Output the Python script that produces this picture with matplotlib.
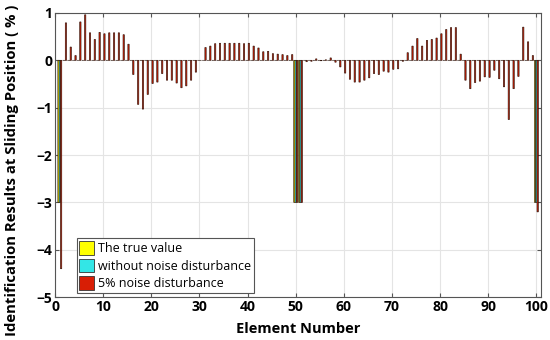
import numpy as np
import matplotlib.pyplot as plt
from matplotlib.patches import Patch

plt.rcParams["font.family"] = ["Open Sans", "DejaVu Sans"]

# element numbers and results
elements = np.arange(1, 101)
damaged_elements = [1, 50, 51, 100]
true_damage = [-3.0, -3.0, -3.0, -3.0]
clean_damage = [-3.0, -3.0, -3.0, -3.0]

noisy = [
    -4.40, 0.79, 0.28, 0.10, 0.81, 0.96, 0.58, 0.44, 0.59, 0.56,
    0.58, 0.58, 0.58, 0.54, 0.34, -0.30, -0.93, -1.03, -0.72, -0.49,
    -0.46, -0.28, -0.42, -0.42, -0.48, -0.58, -0.54, -0.42, -0.25, 0.00,
    0.27, 0.30, 0.35, 0.36, 0.36, 0.36, 0.36, 0.36, 0.35, 0.36,
    0.30, 0.26, 0.18, 0.19, 0.14, 0.13, 0.12, 0.10, 0.12, -3.00,
    -3.00, -0.03, -0.02, 0.03, -0.01, 0.01, 0.05, -0.04, -0.14, -0.27,
    -0.40, -0.46, -0.46, -0.42, -0.37, -0.28, -0.30, -0.23, -0.25, -0.19,
    -0.18, -0.02, 0.16, 0.30, 0.46, 0.30, 0.42, 0.44, 0.47, 0.56,
    0.65, 0.69, 0.69, 0.13, -0.42, -0.60, -0.47, -0.44, -0.35, -0.36,
    -0.21, -0.39, -0.56, -1.25, -0.60, -0.34, 0.70, 0.39, 0.10, -3.20,
]

labels = ["The true value", "without noise disturbance", "5% noise disturbance"]
colors = ["#ffff00", "#33e6e6", "#d81e05"]

true_val = np.zeros(len(elements))
clean = np.zeros(len(elements))
for e, t, c in zip(damaged_elements, true_damage, clean_damage):
    true_val[e - 1] = t
    clean[e - 1] = c

fig = plt.figure(figsize=(5.5, 3.4), dpi=100)
ax = fig.add_axes([0.1, 0.126, 0.884, 0.836])

w = 0.27
for k, vals in enumerate([true_val, clean, np.array(noisy)]):
    ax.bar(elements + (k - 1) * w, vals, width=w, color=colors[k],
           edgecolor="#2a1208", linewidth=0.45, snap=False, zorder=3)

ax.set_xlim(0, 101)
ax.set_ylim(-5, 1)
ax.set_xticks(np.arange(0, 101, 10))
ax.set_yticks(np.arange(-5, 2, 1))
ax.grid(True, color="#e4e4e4", linewidth=0.8, zorder=0)
ax.tick_params(direction="in", top=True, right=True, length=3,
               color="#555555", labelsize=10, pad=2)
for lab in ax.get_xticklabels() + ax.get_yticklabels():
    lab.set_fontweight("bold")
for s in ax.spines.values():
    s.set_color("#555555")
    s.set_linewidth(0.8)

ax.set_xlabel("Element Number", fontsize=10.5, fontweight="bold", labelpad=6)
fig.text(0.021, 0.5, "Identification Results at Sliding Position ( % )",
         rotation=90, ha="center", va="center", fontsize=10.7, fontweight="bold")

handles = [Patch(facecolor=c, edgecolor="#333333", linewidth=0.6) for c in colors]
leg = ax.legend(handles, labels, loc="lower left", bbox_to_anchor=(0.045, 0.015),
                borderaxespad=0, fontsize=9, fancybox=False, framealpha=1,
                edgecolor="#555555", handlelength=1.2, handleheight=1.3,
                handletextpad=0.3, labelspacing=0.3, borderpad=0.2)
leg.get_frame().set_linewidth(0.8)

fig.savefig("out.png", dpi=100)
